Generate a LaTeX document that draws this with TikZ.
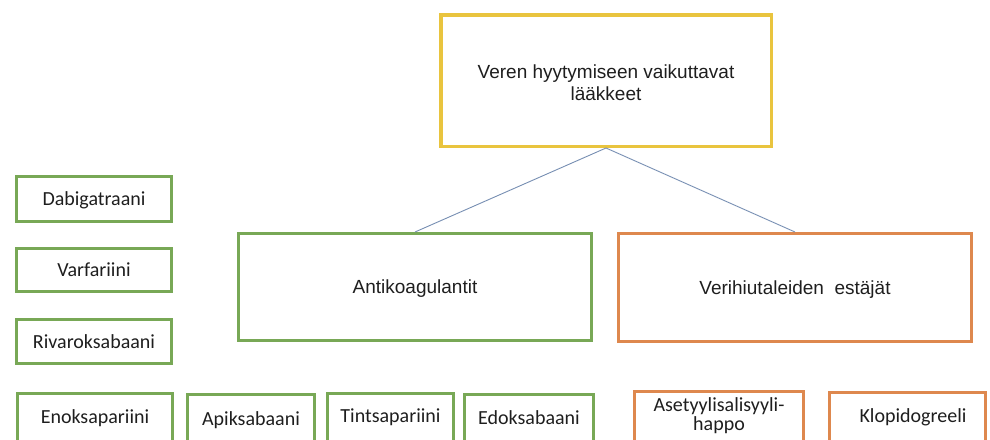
\documentclass[tikz,border=0pt]{standalone}
\usepackage{fontspec}
\setmainfont{Liberation Sans}
\newfontfamily\calfont{Carlito}
\definecolor{boxgold}{RGB}{233,196,62}
\definecolor{boxgreen}{RGB}{120,168,86}
\definecolor{boxorange}{RGB}{222,136,78}
\definecolor{linkblue}{RGB}{118,142,178}
\definecolor{txt}{RGB}{30,30,30}
\tikzset{
  bigbox/.style={draw, line width=3pt, inner sep=0pt, text=txt,
    font=\fontsize{19}{22}\selectfont, align=center},
  smallbox/.style={draw=boxgreen, line width=3pt, inner sep=0pt, text=txt,
    font=\calfont\fontsize{20}{17}\selectfont, align=center},
  oneline/.style={text height=13.3pt, text depth=0pt},
  link/.style={draw=linkblue, line width=0.9pt},
}
\begin{document}
\begin{tikzpicture}[x=1pt,y=-1pt]
\useasboundingbox (0,0) rectangle (990,439);
\clip (0,0) rectangle (990,439);
% top
\node[bigbox, draw=boxgold, line width=3.5pt, minimum width=330.5pt, minimum height=131.5pt] (top) at (606,80.5) {};
\node[font=\fontsize{19}{22}\selectfont, text=txt, align=center, anchor=base, inner sep=0pt] (toptxt) at (606,100) {Veren hyytymiseen vaikuttavat\\lääkkeet};
% second level
\node[bigbox, oneline, draw=boxgreen, minimum width=353pt, minimum height=107pt] (anti) at (415,287) {Antikoagulantit};
\node[bigbox, oneline, draw=boxorange, minimum width=353pt, minimum height=108pt] (veri) at (795,287.5) {Verihiutaleiden\ \ estäjät};
% links
\draw[link] (top.south) -- (anti.north);
\draw[link] (top.south) -- (veri.north);
% left column
\node[smallbox, oneline, minimum width=155pt, minimum height=45pt] (dab) at (94,199) {Dabigatraani};
\node[smallbox, oneline, minimum width=155pt, minimum height=43pt] (var) at (94,270) {Varfariini};
\node[smallbox, oneline, minimum width=155pt, minimum height=44pt] (riv) at (94,341.5) {Rivaroksabaani};
% bottom row (cut by the lower edge)
\node[smallbox, minimum width=155pt, minimum height=52pt] (eno) at (95,419.5) {};
\node[font=\calfont\fontsize{20}{17}\selectfont, text=txt, anchor=base, inner sep=0pt] (enotxt) at (95,423) {Enoksapariini};
\node[smallbox, minimum width=127pt, minimum height=51pt] (apik) at (251,420) {};
\node[font=\calfont\fontsize{20}{17}\selectfont, text=txt, anchor=base, inner sep=0pt] (apiktxt) at (251,425) {Apiksabaani};
\node[smallbox, minimum width=126pt, minimum height=52pt] (tint) at (390.5,419.5) {};
\node[font=\calfont\fontsize{20}{17}\selectfont, text=txt, anchor=base, inner sep=0pt] (tinttxt) at (390.5,422) {Tintsapariini};
\node[smallbox, minimum width=129pt, minimum height=51pt] (edok) at (529,420) {};
\node[font=\calfont\fontsize{20}{17}\selectfont, text=txt, anchor=base, inner sep=0pt] (edoktxt) at (529,424.5) {Edoksabaani};
\node[smallbox, draw=boxorange, minimum width=169pt, minimum height=54pt] (aset) at (719,418.5) {};
\node[font=\calfont\fontsize{20}{17}\selectfont, text=txt, align=center, anchor=base, inner sep=0pt] (asettxt) at (719,430) {Asetyylisalisyyli-\\happo};
\node[smallbox, draw=boxorange, minimum width=156pt, minimum height=53pt] (klop) at (907.5,419) {};
\node[font=\calfont\fontsize{20}{17}\selectfont, text=txt, anchor=base, inner sep=0pt] (kloptxt) at (913,422) {Klopidogreeli};
\end{tikzpicture}
\end{document}
